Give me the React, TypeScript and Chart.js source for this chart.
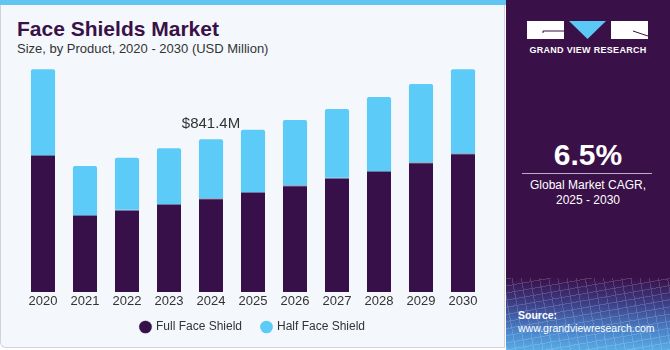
import React, { useEffect, useRef } from "react";
import { Chart, registerables } from "chart.js";

Chart.register(...registerables);

const years = ["2020", "2021", "2022", "2023", "2024", "2025", "2026", "2027", "2028", "2029", "2030"];
const fullFace = [755, 424, 453, 485, 516, 551, 588, 630, 667, 715, 764];
const halfFace = [472, 270, 287, 307, 325.4, 343, 360, 378, 407, 431, 463];
const seriesNames = ["Full Face Shield", "Half Face Shield"];
const annotatedIndex = 4;

const DARK = "#37104a";
const LIGHT = "#5ccbf7";
const FONT = "'Liberation Sans', Arial, sans-serif";

const annotationPlugin = {
  id: "totalLabel",
  afterDatasetsDraw(chart: any) {
    const meta = chart.getDatasetMeta(1);
    const el = meta.data[annotatedIndex];
    if (!el) return;
    const total = fullFace[annotatedIndex] + halfFace[annotatedIndex];
    const ctx = chart.ctx;
    ctx.save();
    ctx.font = `15px ${FONT}`;
    ctx.fillStyle = "#333333";
    ctx.textAlign = "center";
    ctx.textBaseline = "alphabetic";
    ctx.fillText(`$${total.toFixed(1)}M`, el.x, el.y - 11);
    ctx.restore();
  },
};

function BarChart() {
  const ref = useRef<HTMLCanvasElement | null>(null);
  useEffect(() => {
    if (!ref.current) return;
    const chart = new Chart(ref.current, {
      type: "bar",
      data: {
        labels: years,
        datasets: [
          {
            label: seriesNames[0],
            data: fullFace,
            backgroundColor: DARK,
            borderColor: "#6a7aa6",
            borderWidth: { top: 1, left: 0, right: 0, bottom: 0 },
            borderSkipped: false,
            categoryPercentage: 1,
            barPercentage: 0.575,
          },
          {
            label: seriesNames[1],
            data: halfFace,
            backgroundColor: LIGHT,
            borderWidth: 0,
            borderRadius: { topLeft: 2, topRight: 2, bottomLeft: 0, bottomRight: 0 },
            borderSkipped: false,
            categoryPercentage: 1,
            barPercentage: 0.575,
          },
        ],
      },
      options: {
        animation: false,
        responsive: true,
        maintainAspectRatio: false,
        layout: { padding: { left: 22, right: 16, top: 0, bottom: 0 } },
        scales: {
          x: {
            stacked: true,
            grid: { display: false, drawTicks: false, tickLength: 0 },
            border: { display: false },
            ticks: { color: "#333333", font: { size: 13, family: FONT, lineHeight: 19 / 13 }, padding: 0 },
          },
          y: {
            stacked: true,
            display: false,
            min: 0,
            max: 1278,
          },
        },
        plugins: {
          legend: {
            position: "bottom",
            labels: {
              usePointStyle: true,
              pointStyle: "circle",
              boxWidth: 9,
              boxHeight: 9,
              padding: 10,
              color: "#333333",
              font: { size: 12, family: FONT },
              generateLabels(chart: any) {
                const items = Chart.defaults.plugins.legend.labels.generateLabels(chart);
                return items.map((it: any, i: number) =>
                  i < items.length - 1 ? { ...it, text: it.text + "   " } : it
                );
              },
            },
          },
          tooltip: { enabled: false },
        },
      },
      plugins: [annotationPlugin],
    });
    return () => chart.destroy();
  }, []);
  return (
    <div style={{ position: "absolute", left: 0, top: 60, width: 500, height: 283 }}>
      <canvas ref={ref} />
    </div>
  );
}

export default function App() {
  useEffect(() => {
    document.body.style.margin = "0";
  }, []);
  const white = "#ffffff";
  return (
    <div
      style={{
        position: "fixed",
        left: 0,
        top: 0,
        width: 670,
        height: 350,
        overflow: "hidden",
        fontFamily: FONT,
        background: "#ffffff",
      }}
    >
      {/* left panel */}
      <div
        style={{
          position: "absolute",
          left: 0,
          top: 0,
          width: 505,
          height: 348,
          background: "#f4f8fc",
          borderLeft: "1px solid #d0d4da",
          borderBottom: "1px solid #d0d4da",
          borderRight: "1px solid #d0d4da",
          borderBottomLeftRadius: 6,
          boxSizing: "border-box",
        }}
      />
      <div style={{ position: "absolute", left: 0, top: 0, width: 506, height: 5, background: "#5fc6f2" }} />
      <div
        style={{
          position: "absolute",
          left: 17,
          top: 17,
          fontSize: 21,
          fontWeight: 700,
          color: "#3a1048",
          lineHeight: "24px",
          whiteSpace: "nowrap",
        }}
      >
        Face Shields Market
      </div>
      <div
        style={{
          position: "absolute",
          left: 17,
          top: 41,
          fontSize: 13,
          color: "#333333",
          lineHeight: "16px",
          whiteSpace: "nowrap",
        }}
      >
        Size, by Product, 2020 - 2030 (USD Million)
      </div>
      <BarChart />

      {/* right panel */}
      <div style={{ position: "absolute", left: 506, top: 0, width: 164, height: 350, background: "#3a1048" }} />
      <div
        style={{
          position: "absolute",
          left: 506,
          top: 278,
          width: 164,
          height: 72,
          background: "linear-gradient(to bottom, #3a1048 0%, #3c3d86 35%, #4a86cc 75%, #58ace6 100%)",
        }}
      />
      <div
        style={{
          position: "absolute",
          left: 506,
          top: 278,
          width: 164,
          height: 72,
          opacity: 0.18,
          background:
            "repeating-linear-gradient(80deg, rgba(255,255,255,0.9) 0px, rgba(255,255,255,0.9) 1px, transparent 1px, transparent 9px), repeating-linear-gradient(-10deg, rgba(255,255,255,0.9) 0px, rgba(255,255,255,0.9) 1px, transparent 1px, transparent 7px)",
        }}
      />
      <svg style={{ position: "absolute", left: 0, top: 0 }} width={670} height={60}>
        <rect x={527} y={21} width={37} height={18} fill={white} />
        <polyline points="543,33 543,31 564,31" fill="none" stroke="#3a1048" strokeWidth={1} />
        <polygon points="569,21 606,21 587.5,39" fill="#5cc8f5" />
        <rect x={611} y={21} width={37} height={18} fill={white} />
        <line x1={633} y1={31} x2={648} y2={36} stroke="#3a1048" strokeWidth={1} />
      </svg>
      <div
        style={{
          position: "absolute",
          left: 506,
          width: 164,
          top: 44,
          textAlign: "center",
          color: white,
          fontSize: 9,
          fontWeight: 700,
          letterSpacing: 0.3,
          lineHeight: "12px",
          whiteSpace: "nowrap",
        }}
      >
        GRAND VIEW RESEARCH
      </div>
      <div
        style={{
          position: "absolute",
          left: 506,
          width: 164,
          top: 138,
          textAlign: "center",
          color: white,
          fontSize: 30,
          fontWeight: 700,
          lineHeight: "34px",
        }}
      >
        6.5%
      </div>
      <div style={{ position: "absolute", left: 522, top: 173, width: 130, height: 1, background: "#b9aec4" }} />
      <div
        style={{
          position: "absolute",
          left: 506,
          width: 164,
          top: 178,
          textAlign: "center",
          color: white,
          fontSize: 12,
          lineHeight: "15px",
          whiteSpace: "nowrap",
        }}
      >
        Global Market CAGR,
        <br />
        2025 - 2030
      </div>
      <div
        style={{
          position: "absolute",
          left: 518,
          top: 309,
          color: white,
          fontSize: 10.5,
          lineHeight: "13px",
          whiteSpace: "nowrap",
        }}
      >
        <div style={{ fontWeight: 700 }}>Source:</div>
        <div>www.grandviewresearch.com</div>
      </div>
    </div>
  );
}
